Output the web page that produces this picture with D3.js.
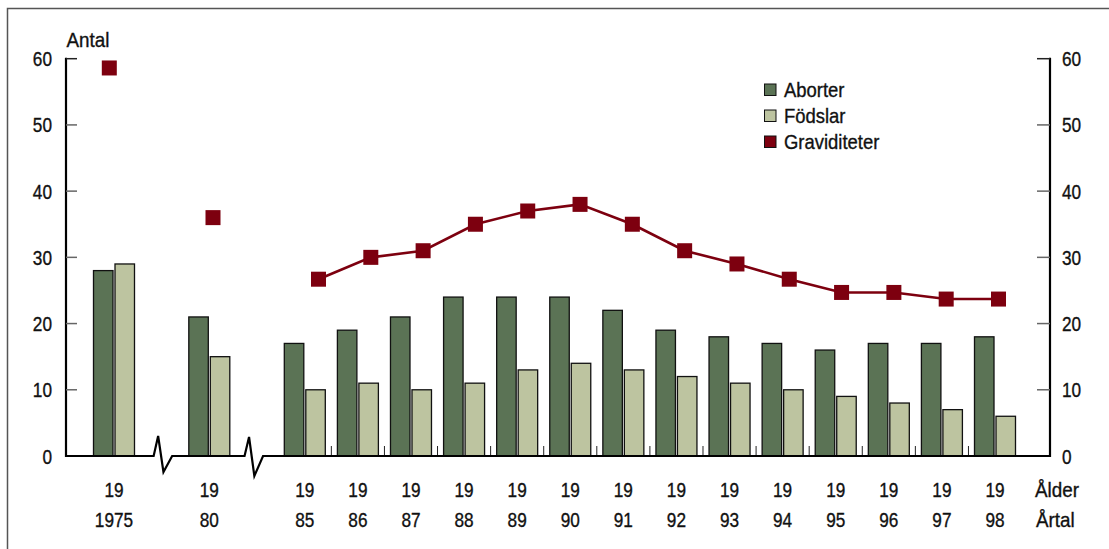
<!DOCTYPE html>
<html><head><meta charset="utf-8">
<script src="https://cdn.jsdelivr.net/npm/d3@7/dist/d3.min.js"></script>
<style>
html,body{margin:0;padding:0;background:#fff;}
svg text{font-family:"Liberation Sans",Arial,sans-serif;fill:#111;stroke:#111;stroke-width:0.35px;}
</style></head>
<body>
<script>
const years = [1975,1980,1985,1986,1987,1988,1989,1990,1991,1992,1993,1994,1995,1996,1997,1998];
const labelTop = ["19","19","19","19","19","19","19","19","19","19","19","19","19","19","19","19"];
const labelBottom = ["1975","80","85","86","87","88","89","90","91","92","93","94","95","96","97","98"];
const aborter = [28,21,17,19,21,24,24,24,22,19,18,17,16,17,17,18];
const fodslar = [29,15,10,11,10,11,13,14,13,12,11,10,9,8,7,6];
const graviditeter = [58.6,36,26.7,30,31,35,37,38,35,31,29,26.7,24.7,24.7,23.7,23.7];
const yTicks = [0,10,20,30,40,50,60];
const legendItems = ["Aborter","Födslar","Graviditeter"];
const colors = {Aborter:"#5b7355", "Födslar":"#bdc4a0", Graviditeter:"#7d000f"};

const W=1109,H=549;
const svg=d3.select("body").append("svg").attr("width",W).attr("height",H);

function txt(x,yy,s,anchor,size,sx){
  return svg.append("text").attr("transform",`translate(${x},${yy}) scale(${sx},1)`)
    .attr("text-anchor",anchor).attr("font-size",size).text(s);
}

svg.append("rect").attr("x",7.5).attr("y",8.5).attr("width",W+20).attr("height",H+20)
  .attr("fill","none").attr("stroke","#555").attr("stroke-width",1.5);

const leftX=66, rightX=1050;
const y=d3.scaleLinear().domain([0,60]).range([456,58.7]);
const xBar=d3.scaleLinear().domain([1975,1980,1985,1998]).range([114,209.3,304.8,995]);
const xLine=d3.scaleLinear().domain([1975,1980,1985,1998]).range([109.3,213,318.5,998.5]);
const bw=19.5, gap=1;

const g=svg.append("g");
years.forEach((yr,i)=>{
  const cx=xBar(yr);
  g.append("rect").attr("x",cx-gap-bw).attr("y",y(aborter[i])).attr("width",bw)
   .attr("height",y(0)-y(aborter[i])).attr("fill",colors.Aborter).attr("stroke","#111").attr("stroke-width",1.3);
  g.append("rect").attr("x",cx+gap).attr("y",y(fodslar[i])).attr("width",bw)
   .attr("height",y(0)-y(fodslar[i])).attr("fill",colors["Födslar"]).attr("stroke","#111").attr("stroke-width",1.3);
});

for(let i=3;i<years.length;i++){
  const mx=(xBar(years[i-1])+xBar(years[i]))/2;
  svg.append("line").attr("x1",mx).attr("x2",mx).attr("y1",446).attr("y2",456)
   .attr("stroke","#222").attr("stroke-width",1);
}

const b1=(xBar(1975)+xBar(1980))/2+1, b2=(xBar(1980)+xBar(1985))/2-3.5;
const y0=y(0);
const zig=(c,h1,h2)=>[[c-9,y0],[c-4.5,y0-h1],[c+0.8,y0+h2],[c+9.5,y0]];
const pts=[[leftX,y0],...zig(b1,20,16),...zig(b2,19,20),[rightX,y0]];
svg.append("path").attr("d",d3.line()(pts)).attr("fill","none").attr("stroke","#000").attr("stroke-width",2.2);

svg.append("line").attr("x1",leftX).attr("x2",leftX).attr("y1",y(60)-1).attr("y2",y0+1).attr("stroke","#000").attr("stroke-width",2.2);
svg.append("line").attr("x1",rightX).attr("x2",rightX).attr("y1",y(60)-1).attr("y2",y0+1).attr("stroke","#000").attr("stroke-width",2.2);
yTicks.forEach(t=>{
  if(t>0){
    svg.append("line").attr("x1",leftX).attr("x2",leftX+11).attr("y1",y(t)).attr("y2",y(t))
      .attr("stroke",t===60?"#222":"#666").attr("stroke-width",1.5);
    svg.append("line").attr("x1",rightX-13).attr("x2",rightX).attr("y1",y(t)).attr("y2",y(t))
      .attr("stroke",t===60?"#222":"#666").attr("stroke-width",1.5);
  }
  txt(52,y(t)+7.5,t,"end",20.5,0.84);
  txt(1062,y(t)+7.5,t,"start",20.5,0.84);
});
txt(66.5,47,"Antal","start",20.5,0.92);

years.forEach((yr,i)=>{
  txt(xBar(yr),497,labelTop[i],"middle",20.5,0.84);
  txt(xBar(yr),527,labelBottom[i],"middle",20.5,0.84);
});
txt(1035,497,"Ålder","start",20.5,0.92);
txt(1036,527,"Årtal","start",20.5,0.92);

const lineIdx=years.map((d,i)=>i).filter(i=>years[i]>=1985);
svg.append("path").attr("d",d3.line()(lineIdx.map(i=>[xLine(years[i]),y(graviditeter[i])])))
  .attr("fill","none").attr("stroke",colors.Graviditeter).attr("stroke-width",2.6);
const sq=15;
years.forEach((yr,i)=>{
  svg.append("rect").attr("x",xLine(yr)-sq/2).attr("y",y(graviditeter[i])-sq/2)
   .attr("width",sq).attr("height",sq).attr("fill",colors.Graviditeter);
});

legendItems.forEach((name,i)=>{
  const ly=84+i*26;
  svg.append("rect").attr("x",764.5).attr("y",ly).attr("width",11.5).attr("height",11.5)
    .attr("fill",colors[name]).attr("stroke","#111").attr("stroke-width",1);
  txt(784,ly+12.5,name,"start",20.5,0.9);
});
</script>
</body></html>
